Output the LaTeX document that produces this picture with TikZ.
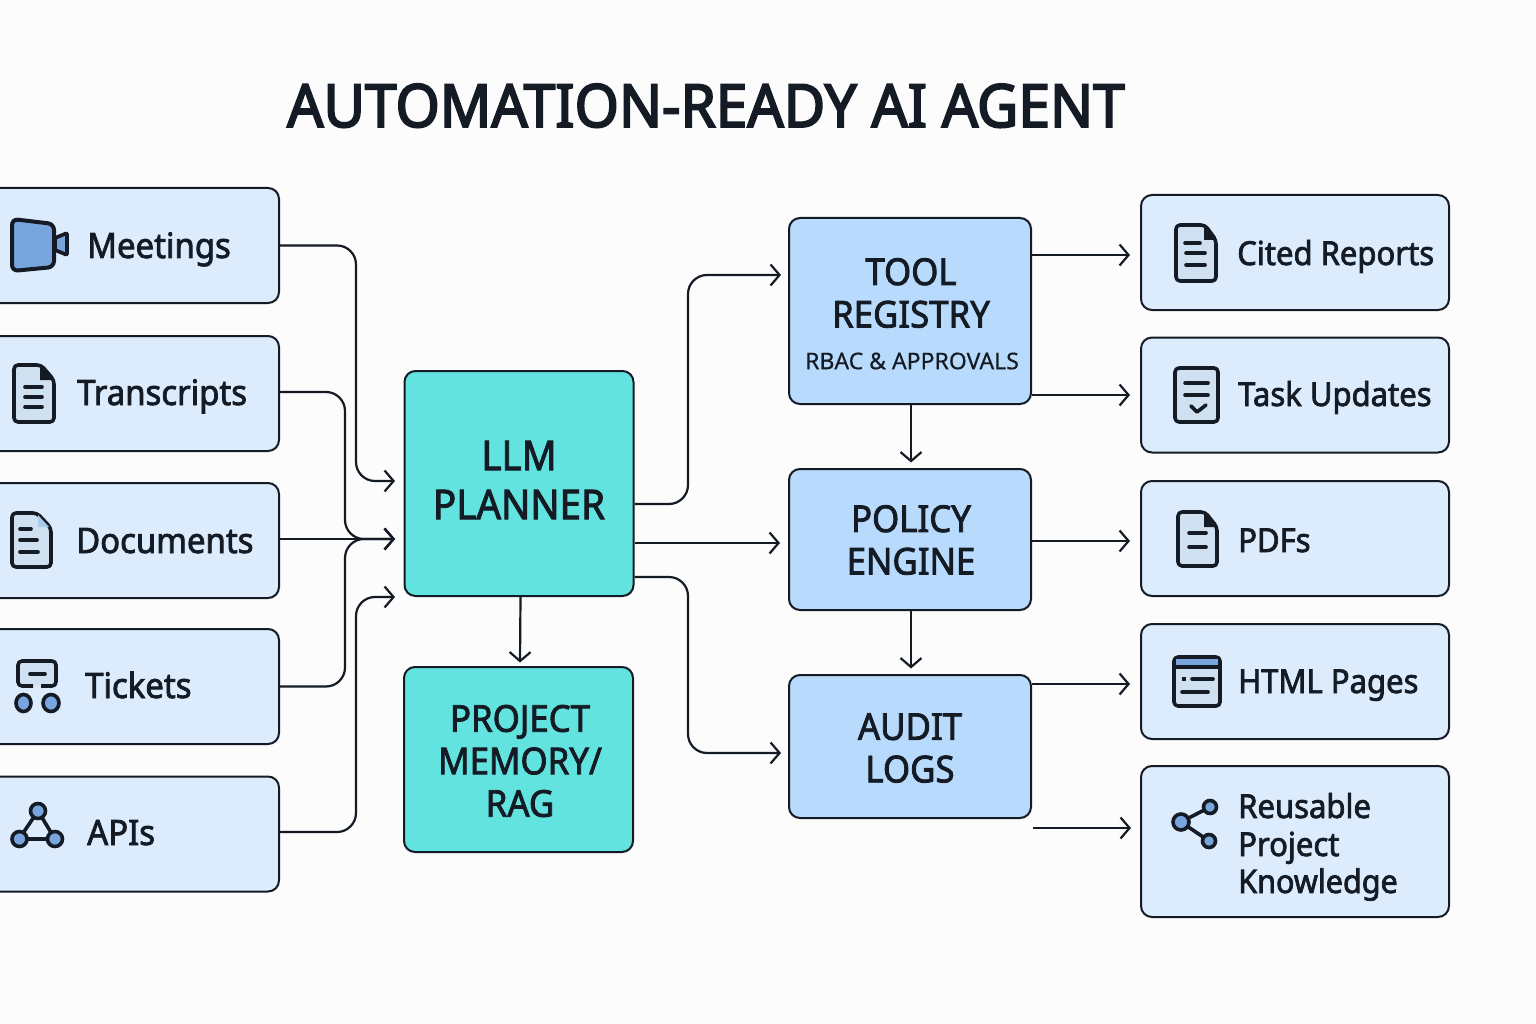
\documentclass[tikz,border=0pt]{standalone}
\usepackage{fontspec}
\setmainfont[FakeBold=2.2,FakeStretch=0.94]{Noto Sans}
\newfontfamily\titlef[FakeBold=3.2,FakeStretch=0.955]{Noto Sans}
\newfontfamily\lightf[FakeBold=0.4]{Noto Sans}
\usetikzlibrary{arrows.meta,calc}
\definecolor{ink}{HTML}{141B24}
\definecolor{pale}{HTML}{DCECFD}
\definecolor{midblue}{HTML}{B8DAFC}
\definecolor{teal}{HTML}{62E3DF}
\definecolor{iconfill}{HTML}{CFE0F0}
\definecolor{iconblue}{HTML}{79A5DE}
\definecolor{foldblue}{HTML}{A9CDEB}
\definecolor{bgc}{HTML}{FCFCFD}
\newcommand{\fs}[2]{\fontsize{#1}{#2}\selectfont}
\tikzset{
  x=1pt,y=-1pt,
  boxbase/.style={draw=ink,line width=2pt,rounded corners=11pt,inner sep=0pt,anchor=center},
  srcbox/.style={boxbase,fill=pale,minimum width=319pt,minimum height=115pt},
  outbox/.style={boxbase,fill=pale,minimum width=308pt,minimum height=115pt},
  midbox/.style={boxbase,fill=midblue,minimum width=242pt},
  tealbox/.style={boxbase,fill=teal,minimum width=229pt},
  lab/.style={inner sep=0pt,anchor=base west,text=ink,font=\fs{33}{38}},
  leftlab/.style={lab,font=\fs{35}{38}},
  midlab/.style={inner sep=0pt,align=center,text=ink,font=\fs{37}{42.5}},
  arr/.style={draw=ink,line width=2.2pt,-{Straight Barb[length=9pt,width=21pt,line width=2.2pt]},rounded corners=19pt},
  ico/.style={draw=ink,line width=3.6pt,line join=round,rounded corners=4pt},
  icol/.style={draw=ink,line width=3.6pt,line cap=round},
  dot/.style={draw=ink,line width=3.6pt,fill=iconblue},
}
\begin{document}
\begin{tikzpicture}
\fill[bgc] (0,0) rectangle (1536,1024);
\clip (0,0) rectangle (1536,1024);
\useasboundingbox (0,0) rectangle (1536,1024);

\node[inner sep=0pt,anchor=base,text=ink,font=\titlef\fs{59.5}{64}] (title) at (706,127) {AUTOMATION-READY AI AGENT};

% sources
\node[srcbox] (meet) at (119.5,245.5) {};
\node[srcbox] (trans) at (119.5,393.5) {};
\node[srcbox] (docs) at (119.5,540.5) {};
\node[srcbox] (tick) at (119.5,686.5) {};
\node[srcbox] (apis) at (119.5,834) {};
\node[leftlab] (lmeet) at (87,258) {Meetings};
\node[leftlab] (ltrans) at (77,405) {Transcripts};
\node[leftlab] (ldocs) at (76,553) {Documents};
\node[leftlab] (ltick) at (85,698) {Tickets};
\node[leftlab] (lapis) at (87,845) {APIs};

% centre
\node[tealbox,minimum height=225pt] (llm) at (519,483.5) {};
\node[tealbox,minimum height=185pt] (mem) at (518.5,759.5) {};
\node[midlab,font=\fs{41}{49}] (tllm) at (519,480) {LLM\\PLANNER};
\node[midlab] (tmem) at (520,761) {PROJECT\\MEMORY/\\RAG};

\node[midbox,minimum height=186pt] (tool) at (910,311) {};
\node[midbox,minimum height=141pt] (pol) at (910,539.5) {};
\node[midbox,minimum height=143pt] (aud) at (910,746.5) {};
\node[midlab] (ttool) at (911,293) {TOOL\\REGISTRY};
\node[inner sep=0pt,text=ink,font=\lightf\fs{23}{26}] (trbac) at (912,361) {RBAC \& APPROVALS};
\node[midlab] (tpol) at (911,540) {POLICY\\ENGINE};
\node[midlab] (taud) at (910,748) {AUDIT\\LOGS};

% outputs
\node[outbox] (cited) at (1295,252.5) {};
\node[outbox] (task) at (1295,395) {};
\node[outbox] (pdfs) at (1295,538.5) {};
\node[outbox] (html) at (1295,681.5) {};
\node[outbox,minimum height=151pt] (reuse) at (1295,841.5) {};
\node[lab] (lcited) at (1237,265) {Cited Reports};
\node[lab] (ltask) at (1238,406) {Task Updates};
\node[lab] (lpdfs) at (1238,552) {PDFs};
\node[lab] (lhtml) at (1238,693) {HTML Pages};
\node[lab] (lr1) at (1238,818) {Reusable};
\node[lab] (lr2) at (1238,856) {Project};
\node[lab,font=\fs{32.5}{38}] (lr3) at (1238,893) {Knowledge};

% free coordinates
\coordinate (busa) at (356,0);
\coordinate (busb) at (345,0);
\coordinate (busc) at (688,0);
\coordinate (pina) at (395,481);
\coordinate (pinb) at (395,539);
\coordinate (pinc) at (395,597);
\coordinate (pind) at (781,275);
\coordinate (pine) at (781,753);
\coordinate (kstart) at (1033,828);
\coordinate (kend) at (1131,828);

% left connectors
\draw[arr] (meet.east) -- (busa |- meet.east) -- (busa |- pina) -- (pina);
\draw[arr] ([yshift=1.5pt]trans.east) -- (busb |- 0,392) -- (busb |- pinb) -- (pinb);
\draw[arr] ([yshift=1.5pt]docs.east) -- (pinb);
\draw[arr] (tick.east) -- (busb |- tick.east) -- (busb |- pinb) -- (pinb);
\draw[arr] ([yshift=2pt]apis.east) -- (busa |- 0,832) -- (busa |- pinc) -- (pinc);

% centre connectors
\draw[arr] ([xshift=1.5pt]llm.south) -- ([xshift=1.5pt,yshift=3.5pt]mem.north);
\draw[arr] ([yshift=-20.5pt]llm.east) -- (busc |- 0,504) -- (busc |- pind) -- (pind);
\draw[arr] ([yshift=-59.5pt]llm.east) -- ([xshift=-8pt,yshift=-3.5pt]pol.west);
\draw[arr] ([yshift=-93.5pt]llm.east) -- (busc |- 0,577) -- (busc |- pine) -- (pine);
\draw[arr] ([xshift=1pt]tool.south) -- ([xshift=1pt,yshift=5.5pt]pol.north);
\draw[arr] ([xshift=1pt]pol.south) -- ([xshift=1pt,yshift=5.5pt]aud.north);

% output connectors
\draw[arr] ([yshift=56pt]tool.east) -- ([xshift=-10pt,yshift=-2.5pt]cited.west);
\draw[arr] ([yshift=-84pt]tool.east) -- ([xshift=-10pt]task.west);
\draw[arr] ([yshift=-1.5pt]pol.east) -- ([xshift=-10pt,yshift=-2.5pt]pdfs.west);
\draw[arr] ([yshift=62.5pt]aud.east) -- ([xshift=-10pt,yshift=-2.5pt]html.west);
\draw[arr] (kstart) -- (kend);

% --- icons ---
% camera
\draw[ico,fill=iconblue,rounded corners=6pt,line width=4pt] (12,219) -- (54,224) -- (54,267) -- (12,271) -- cycle;
\draw[ico,fill=iconblue,rounded corners=1pt] (55,238) -- (67,233) -- (67,255) -- (55,250) -- cycle;
% transcripts doc
\draw[ico,fill=iconfill] (14,365) -- (41,365) -- (54,380) -- (54,422) -- (14,422) -- cycle;
\fill[ink] (40,365) -- (54,380) -- (40,380) -- cycle;
\draw[icol] (25,387) -- (42,387) (25,397) -- (42,397) (25,407) -- (42,407);
% documents doc
\draw[ico,fill=iconfill] (12,513) -- (37,513) -- (51,528) -- (51,567) -- (12,567) -- cycle;
\fill[foldblue] (38,515) -- (49,527) -- (38,527) -- cycle;
\draw[icol] (20,529) -- (31,529) (20,540) -- (37,540) (20,552) -- (38,552);
% tickets
\fill[iconfill] (18,661) rectangle (56,686);
\draw[ico] (33,686) -- (18,686) -- (18,661) -- (56,661) -- (56,686) -- (41,686);
\draw[icol] (30,674) -- (45,674);
\draw[dot] (23.5,703) ellipse (7.5pt and 8.5pt);
\draw[dot] (51,703) ellipse (8pt and 8.5pt);
% apis
\draw[icol] (38,811) -- (19,839) -- (55,839) -- cycle;
\draw[dot] (38,811) circle (7.5pt);
\draw[dot] (19.5,839) circle (7.5pt);
\draw[dot] (55,839) circle (7.5pt);
% cited
\draw[ico,fill=iconfill] (1176,225) -- (1205,225) -- (1216,240) -- (1216,281) -- (1176,281) -- cycle;
\fill[ink] (1204,225) -- (1216,240) -- (1204,240) -- cycle;
\draw[icol] (1185,243) -- (1200,243) (1186,253) -- (1205,253) (1186,265) -- (1205,265);
% task
\draw[ico,fill=iconfill] (1175,368) rectangle (1218,422);
\draw[icol] (1185,383) -- (1208,383) (1185,395) -- (1208,395);
\draw[icol,line join=round] (1191,406) -- (1197,412) -- (1206,405);
% pdfs
\draw[ico,fill=iconfill] (1178,512) -- (1205,512) -- (1217,527) -- (1217,566) -- (1178,566) -- cycle;
\fill[ink] (1204,512) -- (1217,527) -- (1204,527) -- cycle;
\draw[icol] (1189,533) -- (1206,533) (1189,547) -- (1206,547);
% html
\draw[ico,fill=iconfill] (1174,657) rectangle (1220,706);
\fill[iconblue] (1176,659) rectangle (1218,665);
\draw[icol] (1175,667) -- (1219,667);
\fill[ink] (1182,677) rectangle (1186,681);
\draw[icol] (1192,679) -- (1213,679) (1182,692) -- (1208,692);
% reuse
\draw[icol] (1181,822) -- (1210,807) (1181,822) -- (1209,841);
\draw[dot] (1181,822) circle (8pt);
\draw[dot] (1210,807) circle (6.5pt);
\draw[dot] (1209,841) circle (6.5pt);
\end{tikzpicture}
\end{document}
